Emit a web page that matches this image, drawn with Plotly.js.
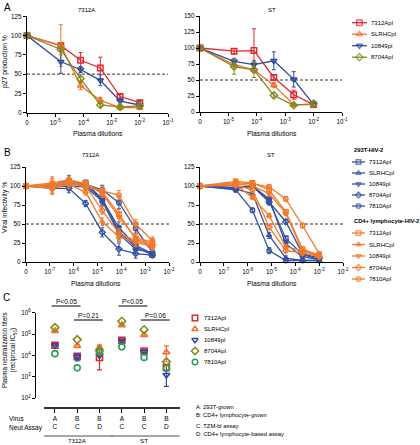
<!DOCTYPE html>
<html><head><meta charset="utf-8">
<script src="https://cdn.plot.ly/plotly-3.0.1.min.js"></script>
<style>html,body{margin:0;padding:0;background:#fff}#chart{width:420px;height:445px}</style>
</head><body><div id="chart"></div>
<script>
// ---------------- DATA ----------------
const plasmaA = ['7312Apl','SLRHCpl','10849pl','8704Apl'];
const plasmaB = ['7312Apl','SLRHCpl','10849pl','8704Apl','7810Apl'];
const groupNamesB = ['293T-HIV-2','CD4+ lymphocyte-HIV-2'];

// Panel A : log10 plasma dilution (first point = no plasma, shown as "0")
const xA = [-6, -4.8, -4.1, -3.4, -2.7, -2.0];
const xTickValsA = [-6,-5,-4,-3,-2,-1];
const xTickTextA = ['0','10<sup>-5</sup>','10<sup>-4</sup>','10<sup>-3</sup>','10<sup>-2</sup>','10<sup>-1</sup>'];
// 7312A
const a1_7312Apl = [100, 87, 68, 58, 21, 13];
const a1_7312Apl_err = [0, 4, 10, 14, 3, 3];
const a1_SLRHCpl = [100, 87, 35, 16, 6.6, 6.6];
const a1_SLRHCpl_err = [0, 27, 5, 4, 2, 2];
const a1_10849pl = [100, 66, 56, 42, 15, 10];
const a1_10849pl_err = [0, 15, 4, 7, 4, 5];
const a1_8704Apl = [100, 82, 44, 10, 7.5, 8.8];
const a1_8704Apl_err = [0, 7, 5, 2, 2, 2];
// ST
const a2_7312Apl = [100, 95, 96, 54, 27, 11.6];
const a2_7312Apl_err = [0, 4, 34, 4, 7, 2];
const a2_SLRHCpl = [100, 74, 66, 42, 11.6, 11.6];
const a2_SLRHCpl_err = [0, 5, 5, 4, 2, 2];
const a2_10849pl = [100, 79, 74, 80, 51, 11.6];
const a2_10849pl_err = [0, 5, 6, 14, 12, 3];
const a2_8704Apl = [100, 71, 66, 26, 10.5, 13];
const a2_8704Apl_err = [0, 12, 12, 4, 2, 4];

// Panel B
const xB1 = [-8, -6.9, -6.2, -5.5, -4.8, -4.1, -3.4, -2.7];
const xB2 = [-8, -6.5, -5.8, -5.1, -4.4, -3.7, -3.0];
const xTickValsB = [-8,-7,-6,-5,-4,-3,-2];
const xTickTextB = ['0','10<sup>-7</sup>','10<sup>-6</sup>','10<sup>-5</sup>','10<sup>-4</sup>','10<sup>-3</sup>','10<sup>-2</sup>'];
// 7312A, 293T-grown
const b1_293T_7312Apl = [100, 100, 103, 104, 83, 40, 20, 9];
const b1_293T_SLRHCpl = [100, 99, 100, 99, 80, 37, 17, 12];
const b1_293T_10849pl = [100, 101, 108, 102, 82, 45, 22, 11];
const b1_293T_8704Apl = [100, 97, 97, 77, 39, 17, 11, 9];
const b1_293T_7810Apl = [100, 100, 103, 102, 95, 78, 44, 13];
const b1_293T_err = [0, 3, 6, 4, 6, 8, 6, 3];
// 7312A, CD4+ lymphocyte-grown
const b1_CD4_7312Apl = [100, 100, 105, 103, 92, 63, 30, 24];
const b1_CD4_SLRHCpl = [100, 97, 102, 92, 53, 33, 26, 20];
const b1_CD4_10849pl = [100, 104, 108, 103, 90, 59, 32, 26];
const b1_CD4_8704Apl = [100, 102, 106, 100, 68, 38, 28, 22];
const b1_CD4_7810Apl = [100, 98, 104, 99, 94, 88, 50, 28];
const b1_CD4_err = [0, 8, 5, 4, 5, 6, 6, 5];
// ST, 293T-grown
const b2_293T_7312Apl = [100, 97, 100, 80, 31, 10, 3];
const b2_293T_SLRHCpl = [100, 96, 90, 35, 5, 2, 2];
const b2_293T_10849pl = [100, 98, 100, 83, 24, 7, 3];
const b2_293T_8704Apl = [100, 97, 100, 79, 53, 11, 5];
const b2_293T_7810Apl = [100, 95, 68, 15, 2, 2, 2];
const b2_293T_err = [0, 3, 3, 4, 3, 2, 1];
// ST, CD4+ lymphocyte-grown
const b2_CD4_7312Apl = [100, 106, 104, 95, 66, 17, 9];
const b2_CD4_SLRHCpl = [100, 102, 85, 61, 20, 15, 8];
const b2_CD4_10849pl = [100, 103, 100, 90, 64, 15, 8];
const b2_CD4_8704Apl = [100, 101, 95, 46, 15, 12, 7];
const b2_CD4_7810Apl = [100, 104, 103, 99, 83, 48, 11];
const b2_CD4_err = [0, 3, 3, 3, 3, 3, 2];

// Panel C : neutralization titers (reciprocal IC50)
const cVirus = ['A','B','B','A','B','B'];
const cAssay = ['C','C','D','C','C','D'];
const cGroups = ['7312A','ST'];
const c_7312Apl = [30000, 9000, 7900, 51000, 16000, 2700];
const c_7312Apl_up = [0, 1500, 20000, 5000, 3000, 800];
const c_7312Apl_dn = [0, 1500, 5800, 5000, 3000, 800];
const c_SLRHCpl = [140000, 28000, 23000, 260000, 90000, 14000];
const c_SLRHCpl_up = [0, 5000, 7000, 0, 10000, 14000];
const c_SLRHCpl_dn = [0, 5000, 7000, 0, 10000, 9000];
const c_10849pl = [30000, 8500, 10000, 50000, 15000, 1200];
const c_10849pl_up = [0, 3000, 0, 0, 2000, 800];
const c_10849pl_dn = [0, 3000, 0, 0, 2000, 850];
const c_8704Apl = [200000, 55000, 17000, 400000, 160000, 5000];
const c_7810Apl = [12000, 2600, 14000, 25000, 8000, 2500];
const pLabels = ['P<0.05','P=0.21','P<0.05','P=0.06'];
const pPairs = [[0,1],[1,2],[3,4],[4,5]];
const footA = ['A: 293T-grown','B: CD4+ lymphocyte-grown'];
const footC = ['C: TZM-bl assay','D: CD4+ lymphocyte-based assay'];

// ---------------- STYLE ----------------
const F = 'Liberation Sans, Arial, Helvetica, sans-serif';
const colA = ['#e3262b','#f2712a','#2e4a9e','#878a1e'];
const colC = ['#e3262b','#f2712a','#2e4a9e','#878a1e','#23a05a'];
const blueB = '#3453a3', orangeB = '#f27a2b';
const sym = ['square-open','triangle-up-open','triangle-down-open','diamond-open','circle-open'];
const W = 420, H = 445;
const px = v => v / W, py = v => 1 - v / H;

const traces = [];
function line(x, y, err, color, symbol, xa, ya, msize) {
  traces.push({
    type:'scatter', mode:'lines+markers', x, y, xaxis:xa, yaxis:ya,
    showlegend:false, cliponaxis:false,
    line:{color, width:1.3},
    marker:{symbol, size:msize, color, line:{color, width:1.4}},
    error_y:{type:'data', array:err, visible:true, color, thickness:1, width:2}
  });
}
// Panel A
[a1_7312Apl,a1_SLRHCpl,a1_10849pl,a1_8704Apl].forEach((y,i)=>
  line(xA, y, [a1_7312Apl_err,a1_SLRHCpl_err,a1_10849pl_err,a1_8704Apl_err][i], colA[i], sym[i], 'x','y',5.5));
[a2_7312Apl,a2_SLRHCpl,a2_10849pl,a2_8704Apl].forEach((y,i)=>
  line(xA, y, [a2_7312Apl_err,a2_SLRHCpl_err,a2_10849pl_err,a2_8704Apl_err][i], colA[i], sym[i], 'x2','y2',5.5));
// Panel B
[b1_293T_7312Apl,b1_293T_SLRHCpl,b1_293T_10849pl,b1_293T_8704Apl,b1_293T_7810Apl].forEach((y,i)=>
  line(xB1, y, b1_293T_err, blueB, sym[i], 'x3','y3',4.5));
[b1_CD4_7312Apl,b1_CD4_SLRHCpl,b1_CD4_10849pl,b1_CD4_8704Apl,b1_CD4_7810Apl].forEach((y,i)=>
  line(xB1, y, b1_CD4_err, orangeB, sym[i], 'x3','y3',4.5));
[b2_293T_7312Apl,b2_293T_SLRHCpl,b2_293T_10849pl,b2_293T_8704Apl,b2_293T_7810Apl].forEach((y,i)=>
  line(xB2, y, b2_293T_err, blueB, sym[i], 'x4','y4',4.5));
[b2_CD4_7312Apl,b2_CD4_SLRHCpl,b2_CD4_10849pl,b2_CD4_8704Apl,b2_CD4_7810Apl].forEach((y,i)=>
  line(xB2, y, b2_CD4_err, orangeB, sym[i], 'x4','y4',4.5));
// Panel C
const cIdx = cVirus.map((_,i)=>i);
const cSeries = [[c_7312Apl,c_7312Apl_up,c_7312Apl_dn],[c_SLRHCpl,c_SLRHCpl_up,c_SLRHCpl_dn],
  [c_10849pl,c_10849pl_up,c_10849pl_dn],[c_8704Apl,null,null],[c_7810Apl,null,null]];
cSeries.forEach((s,i)=>{
  const t = {type:'scatter', mode:'markers', x:cIdx, y:s[0], xaxis:'x5', yaxis:'y5', showlegend:false, cliponaxis:false,
    marker:{symbol:sym[i], size:6, color:colC[i], line:{color:colC[i], width:1.6}}};
  if (s[1]) t.error_y = {type:'data', symmetric:false, array:s[1], arrayminus:s[2], color:colC[i], thickness:1.2, width:2.5};
  traces.push(t);
});

// Legends (key drawn on a pixel overlay axis x6/y6)
function keyEntry(x0, x1, y, color, symbol, msize, withLine) {
  traces.push({type:'scatter', mode: withLine?'lines+markers':'markers',
    x: withLine?[x0,(x0+x1)/2,x1]:[(x0+x1)/2], y: withLine?[y,y,y]:[y],
    xaxis:'x6', yaxis:'y6', showlegend:false, cliponaxis:false, hoverinfo:'skip',
    line:{color, width:1.3},
    marker:{symbol, size: withLine?[0,msize,0]:msize, color, line:{color, width:1.5}}});
}
const annotations = [];
function txt(text, x, y, size, opts) {
  annotations.push(Object.assign({text, x, y, xref:'x6', yref:'y6', showarrow:false,
    font:{family:F, size, color:'#000'}, xanchor:'left', yanchor:'middle'}, opts||{}));
}
plasmaA.forEach((n,i)=>{ const y = 22.7 + i*11.5; keyEntry(352,367,y,colA[i],sym[i],5.5,true); txt(n,369,y,6); });
txt(groupNamesB[0], 352, 150, 5.8, {font:{family:F,size:5.8,color:'#000',weight:'bold'}});
plasmaB.forEach((n,i)=>{ const y = 162 + i*11; keyEntry(352,365,y,blueB,sym[i],4.5,true); txt(n,367,y,6); });
txt(groupNamesB[1], 352, 221, 5.8, {font:{family:F,size:5.8,color:'#000',weight:'bold'}});
plasmaB.forEach((n,i)=>{ const y = 233 + i*11.5; keyEntry(352,365,y,orangeB,sym[i],4.5,true); txt(n,367,y,6); });
plasmaB.forEach((n,i)=>{ const y = 318 + i*11; keyEntry(192,198,y,colC[i],sym[i],5.5,false); txt(n,202,y,6); });

// Text
txt('A', 2, 7, 10); txt('B', 2, 152, 10); txt('C', 1, 297, 10);
txt('7312A', 86, 10, 6, {xanchor:'center'}); txt('ST', 272, 10, 6, {xanchor:'center'});
txt('7312A', 90, 155, 6, {xanchor:'center'}); txt('ST', 271, 155, 6, {xanchor:'center'});
txt('Plasma dilutions', 98, 133, 6.8, {xanchor:'center'}); txt('Plasma dilutions', 272, 133, 6.8, {xanchor:'center'});
txt('Plasma dilutions', 96, 283, 6.8, {xanchor:'center'}); txt('Plasma dilutions', 272, 283, 6.8, {xanchor:'center'});
txt('p27 production %', 5, 62, 6.8, {xanchor:'center', textangle:-90});
txt('Viral infectivity %', 5, 208, 6.8, {xanchor:'center', textangle:-90});
txt('Plasma neutralization titers<br>(reciprocal IC<sub>50</sub>)', 9, 350, 6.3, {xanchor:'center', textangle:-90});
txt('Virus', 7, 418, 6.5); txt('Neut Assay', 7, 428, 6.5);
footA.forEach((t,i)=>txt(t, 194, 407 + i*7.5, 5.8));
footC.forEach((t,i)=>txt(t, 194, 426 + i*7.5, 5.8));

const shapes = [];
shapes.push({type:'line', xref:'x', yref:'y', x0:-6, x1:-1, y0:50, y1:50, line:{color:'#333', width:1, dash:'3px,2px'}, layer:'below'});
shapes.push({type:'line', xref:'x2', yref:'y2', x0:-6, x1:-1, y0:50, y1:50, line:{color:'#333', width:1, dash:'3px,2px'}, layer:'below'});
shapes.push({type:'line', xref:'x3', yref:'y3', x0:-8, x1:-2, y0:50, y1:50, line:{color:'#333', width:1, dash:'3px,2px'}, layer:'below'});
shapes.push({type:'line', xref:'x4', yref:'y4', x0:-8, x1:-2, y0:50, y1:50, line:{color:'#333', width:1, dash:'3px,2px'}, layer:'below'});
// P-value brackets
pPairs.forEach((p,i)=>{
  const yl = (i%2===0) ? 306 : 320;
  shapes.push({type:'line', xref:'x5', yref:'y6', x0:p[0]-0.15, x1:p[1]+0.15, y0:yl, y1:yl, line:{color:'#000', width:1}});
  annotations.push({text:pLabels[i], x:(p[0]+p[1])/2, y:yl-4.5, xref:'x5', yref:'y6', showarrow:false,
    font:{family:F, size:6.5, color:'#000'}, xanchor:'center', yanchor:'middle'});
});
// group bars below categories
cGroups.forEach((g,i)=>{
  shapes.push({type:'line', xref:'x5', yref:'y6', x0:i*3-0.5, x1:i*3+2.6, y0:436, y1:436, line:{color:'#888', width:1.6}});
  annotations.push({text:g, x:i*3+1, y:440.5, xref:'x5', yref:'y6', showarrow:false,
    font:{family:F, size:6.2, color:'#000'}, xanchor:'center', yanchor:'middle'});
});

const baseAx = {showline:true, linecolor:'#000', linewidth:1.3, ticks:'outside', ticklen:3, tickwidth:1, tickcolor:'#000',
  showgrid:false, zeroline:false, fixedrange:true, tickfont:{family:F, size:6.3, color:'#000'}};
const ax = o => Object.assign({}, baseAx, o);

const layout = {
  width:W, height:H, margin:{l:0,r:0,t:0,b:0}, paper_bgcolor:'#fff', plot_bgcolor:'rgba(0,0,0,0)',
  showlegend:false, font:{family:F, size:6.5, color:'#000'},
  xaxis: ax({domain:[px(27),px(168)], range:[-6,-1], anchor:'y', tickvals:xTickValsA, ticktext:xTickTextA}),
  yaxis: ax({domain:[py(112.7),py(16.3)], range:[0,125], anchor:'x', dtick:25}),
  xaxis2: ax({domain:[px(200),px(342)], range:[-6,-1], anchor:'y2', tickvals:xTickValsA, ticktext:xTickTextA}),
  yaxis2: ax({domain:[py(112),py(16)], range:[0,150], anchor:'x2', dtick:25}),
  xaxis3: ax({domain:[px(26),px(169)], range:[-8,-2], anchor:'y3', tickvals:xTickValsB, ticktext:xTickTextB}),
  yaxis3: ax({domain:[py(262),py(167)], range:[0,125], anchor:'x3', dtick:25}),
  xaxis4: ax({domain:[px(200),px(343)], range:[-8,-2], anchor:'y4', tickvals:xTickValsB, ticktext:xTickTextB}),
  yaxis4: ax({domain:[py(262),py(167)], range:[0,125], anchor:'x4', dtick:25}),
  xaxis5: ax({domain:[px(44),px(180)], range:[-0.49,5.61], anchor:'free', position:py(407), linewidth:1.8, linecolor:'#333',
    ticklen:4, tickvals:cIdx, ticktext:cVirus.map((v,i)=>v+'<br>'+cAssay[i]), tickfont:{family:F,size:6.5,color:'#000'}}),
  yaxis5: ax({domain:[py(398),py(312.7)], type:'log', range:[2,6], anchor:'free', position:px(35),
    tickvals:[100,1000,10000,100000,1000000], ticktext:['10<sup>2</sup>','10<sup>3</sup>','10<sup>4</sup>','10<sup>5</sup>','10<sup>6</sup>']}),
  xaxis6: {domain:[0,1], range:[0,W], visible:false, fixedrange:true, anchor:'y6'},
  yaxis6: {domain:[0,1], range:[H,0], visible:false, fixedrange:true, anchor:'x6'},
  shapes, annotations
};
Plotly.newPlot('chart', traces, layout, {staticPlot:true, displayModeBar:false});
</script></body></html>
